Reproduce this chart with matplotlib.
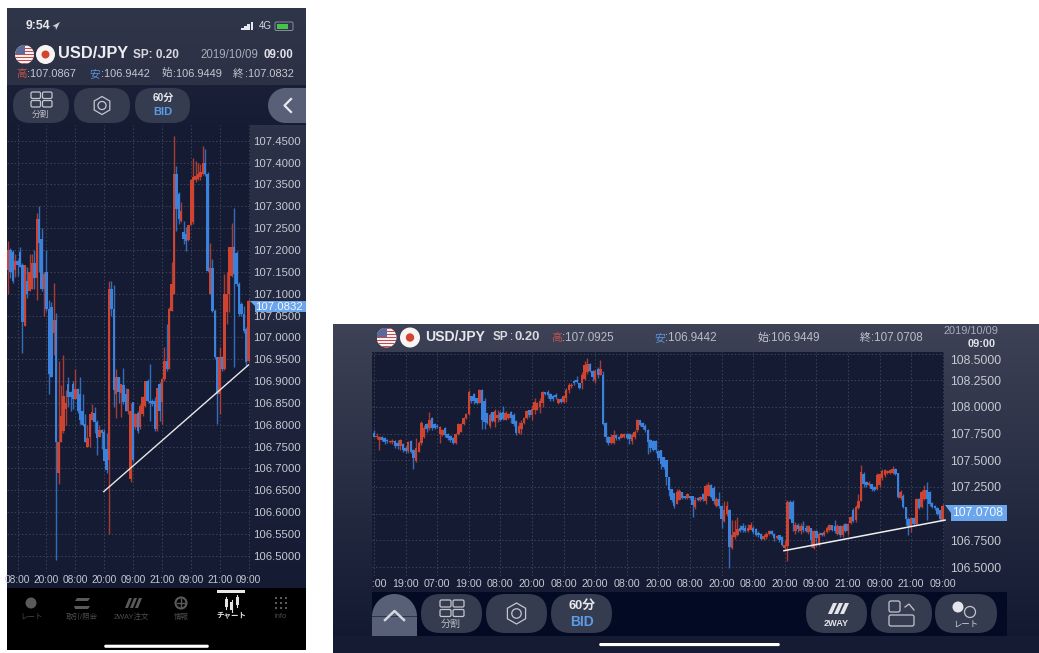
import numpy as np
import matplotlib
matplotlib.use("Agg")
import matplotlib.pyplot as plt
from matplotlib.colors import to_rgb
from matplotlib.patches import Circle, FancyBboxPatch, Polygon, Rectangle, RegularPolygon, Wedge
from matplotlib.transforms import Bbox

W, H = 1039, 653
FONT = ["Liberation Sans", "Noto Sans CJK JP"]
plt.rcParams["font.family"] = FONT

RED = "#cf4431"
BLUE = "#3b82dc"
GRID = "#3d4359"
TICK = "#c6c9d2"
CHART_BG = "#141b33"
BTN = "#363c50"

# portrait chart, 60 min candles
left_open = [
    107.155, 107.20, 107.195, 107.155, 107.175, 107.195, 107.165, 107.025, 107.13, 107.105,
    107.11, 107.17, 107.135, 107.27, 107.225, 107.11, 107.15, 107.065, 107.07, 107.01,
    107.04, 106.69, 106.76, 106.785, 106.835, 106.893, 106.874, 106.893, 106.859, 106.882,
    106.871, 106.832, 106.802, 106.75, 106.771, 106.81, 106.828, 106.806, 106.772, 106.787,
    106.783, 106.745, 106.72, 107.11, 107.065, 106.87, 106.91, 106.873, 106.89, 106.87,
    106.832, 106.676, 106.851, 106.794, 106.828, 106.794, 106.824, 106.844, 106.90, 106.855,
    106.855, 106.855, 106.79, 106.893, 106.851, 106.905, 106.947, 106.927, 107.061, 107.099,
    107.374, 107.328, 107.267, 107.24, 107.236, 107.223, 107.256, 107.263, 107.359, 107.362,
    107.366, 107.374, 107.40, 107.374, 107.099, 107.159, 107.061, 106.954, 106.87, 106.954,
    106.927, 107.057, 107.099, 107.141, 107.206, 107.194, 107.122, 107.076, 107.053, 107.019,
    106.9449,
]
left_high = [
    107.22, 107.205, 107.20, 107.19, 107.18, 107.207, 107.17, 107.165, 107.16, 107.19,
    107.19, 107.20, 107.285, 107.30, 107.25, 107.15, 107.20, 107.085, 107.08, 107.125,
    107.055, 106.945, 106.89, 106.96, 106.88, 106.909, 106.878, 106.901, 106.928, 106.885,
    106.909, 106.87, 106.825, 106.80, 106.825, 106.848, 106.84, 106.81, 106.80, 106.79,
    106.79, 106.78, 107.13, 107.13, 107.12, 106.927, 106.91, 106.893, 106.93, 106.885,
    106.882, 106.85, 106.851, 106.828, 106.832, 106.847, 106.866, 106.90, 106.905, 106.939,
    106.859, 106.863, 106.885, 106.897, 106.908, 106.977, 107.03, 107.069, 107.172, 107.46,
    107.393, 107.332, 107.309, 107.267, 107.252, 107.256, 107.362, 107.41, 107.404, 107.40,
    107.397, 107.439, 107.431, 107.378, 107.217, 107.179, 107.065, 106.956, 106.977, 106.958,
    107.145, 107.149, 107.206, 107.261, 107.296, 107.198, 107.126, 107.08, 107.072, 107.023,
    107.0867,
]
left_low = [
    107.10, 107.135, 107.125, 107.137, 107.14, 107.16, 106.965, 107.025, 107.09, 107.105,
    107.11, 107.11, 107.085, 107.15, 107.105, 107.05, 107.06, 106.87, 106.91, 106.96,
    106.49, 106.665, 106.76, 106.78, 106.80, 106.84, 106.832, 106.836, 106.859, 106.828,
    106.802, 106.798, 106.76, 106.748, 106.748, 106.81, 106.78, 106.73, 106.772, 106.745,
    106.718, 106.69, 106.55, 107.05, 106.84, 106.815, 106.85, 106.817, 106.848, 106.832,
    106.825, 106.67, 106.714, 106.79, 106.782, 106.79, 106.821, 106.84, 106.851, 106.809,
    106.844, 106.786, 106.786, 106.809, 106.802, 106.90, 106.924, 106.927, 107.061, 107.099,
    107.244, 107.259, 107.263, 107.214, 107.198, 107.221, 107.256, 107.259, 107.355, 107.359,
    107.359, 107.372, 107.37, 107.149, 107.099, 107.057, 106.95, 106.802, 106.824, 106.924,
    106.925, 107.03, 107.057, 107.137, 106.933, 107.118, 107.05, 107.05, 107.011, 106.935,
    106.9442,
]
left_close = [
    107.20, 107.15, 107.13, 107.175, 107.165, 107.16, 107.035, 107.165, 107.10, 107.15,
    107.17, 107.135, 107.27, 107.215, 107.11, 107.145, 107.065, 106.915, 106.91, 107.04,
    106.76, 106.76, 106.82, 106.865, 106.85, 106.863, 106.863, 106.859, 106.882, 106.832,
    106.81, 106.80, 106.76, 106.77, 106.825, 106.83, 106.806, 106.77, 106.787, 106.78,
    106.718, 106.696, 107.11, 107.065, 106.88, 106.91, 106.875, 106.893, 106.851, 106.832,
    106.882, 106.832, 106.72, 106.824, 106.786, 106.844, 106.863, 106.90, 106.855, 106.849,
    106.847, 106.79, 106.885, 106.832, 106.905, 106.947, 106.927, 107.065, 107.122, 107.374,
    107.294, 107.271, 107.29, 107.225, 107.221, 107.256, 107.359, 107.366, 107.37, 107.374,
    107.378, 107.399, 107.374, 107.152, 107.159, 107.061, 106.954, 106.87, 106.954, 106.927,
    107.099, 107.099, 107.206, 107.206, 107.145, 107.122, 107.053, 107.053, 107.015, 106.943,
    107.0832,
]
left_yticks = [106.50, 106.55, 106.60, 106.65, 106.70, 106.75, 106.80, 106.85, 106.90, 106.95,
               107.00, 107.05, 107.10, 107.15, 107.20, 107.25, 107.30, 107.35, 107.40, 107.45]
left_xticks = [4, 16, 28, 40, 52, 64, 76, 88, 100]
left_xlabels = ["08:00", "20:00", "08:00", "20:00", "09:00", "21:00", "09:00", "21:00", "09:00"]
left_trend_x = [39.8, 100]
left_trend_y = [106.647, 106.937]

# landscape chart
right_open = [
    107.76, 107.72, 107.69, 107.72, 107.71, 107.69, 107.67, 107.67, 107.68, 107.66,
    107.63, 107.65, 107.62, 107.59, 107.68, 107.60, 107.49, 107.58, 107.66, 107.72,
    107.84, 107.80, 107.90, 107.84, 107.82, 107.75, 107.74, 107.80, 107.75, 107.73,
    107.71, 107.66, 107.75, 107.77, 107.84, 107.90, 107.93, 108.10, 108.12, 108.08,
    108.04, 108.16, 108.06, 107.94, 107.82, 107.95, 107.86, 107.90, 107.94, 107.95,
    107.88, 107.90, 107.95, 107.92, 107.87, 107.76, 107.79, 107.85, 107.90, 107.97,
    107.92, 107.97, 107.97, 108.00, 108.04, 108.14, 108.14, 108.12, 108.10, 108.11,
    108.04, 108.07, 108.05, 108.08, 108.16, 108.20, 108.24, 108.25, 108.22, 108.22,
    108.26, 108.33, 108.40, 108.34, 108.25, 108.36, 108.30, 108.30, 107.85, 107.72,
    107.66, 107.66, 107.74, 107.72, 107.71, 107.72, 107.75, 107.75, 107.68, 107.72,
    107.78, 107.88, 107.85, 107.82, 107.78, 107.69, 107.68, 107.68, 107.59, 107.60,
    107.53, 107.50, 107.34, 107.23, 107.19, 107.09, 107.13, 107.20, 107.17, 107.15,
    107.17, 107.17, 107.06, 107.15, 107.13, 107.18, 107.12, 107.17, 107.27, 107.24,
    107.07, 107.14, 107.07, 106.93, 107.00, 107.03, 106.68, 106.78, 106.80, 106.87,
    106.88, 106.87, 106.84, 106.85, 106.87, 106.86, 106.82, 106.81, 106.76, 106.78,
    106.81, 106.84, 106.81, 106.77, 106.80, 106.78, 106.68, 106.70, 107.11, 107.11,
    106.84, 106.89, 106.84, 106.88, 106.87, 106.83, 106.87, 106.68, 106.84, 106.71,
    106.82, 106.80, 106.83, 106.85, 106.89, 106.88, 106.81, 106.88, 106.80, 106.90,
    106.84, 106.91, 107.03, 106.94, 107.05, 107.12, 107.37, 107.30, 107.27, 107.28,
    107.25, 107.23, 107.27, 107.33, 107.36, 107.38, 107.38, 107.38, 107.42, 107.38,
    107.15, 107.17, 107.06, 106.95, 106.88, 106.96, 106.90, 107.14, 107.06, 107.14,
    107.22, 107.20, 107.10, 107.07, 107.05, 107.03, 106.9449,
]
right_high = [
    107.78, 107.76, 107.73, 107.73, 107.72, 107.70, 107.69, 107.70, 107.69, 107.69,
    107.70, 107.66, 107.63, 107.68, 107.69, 107.61, 107.71, 107.68, 107.87, 107.83,
    107.85, 107.95, 107.91, 107.85, 107.84, 107.82, 107.79, 107.81, 107.76, 107.74,
    107.72, 107.76, 107.85, 107.85, 107.91, 107.94, 108.16, 108.10, 108.13, 108.08,
    108.17, 108.17, 108.08, 107.94, 107.94, 107.95, 107.98, 107.97, 107.96, 108.01,
    107.96, 107.94, 107.96, 107.94, 107.88, 107.86, 107.88, 107.91, 107.97, 107.97,
    108.02, 108.08, 108.05, 108.08, 108.15, 108.14, 108.16, 108.13, 108.11, 108.13,
    108.08, 108.08, 108.11, 108.18, 108.22, 108.22, 108.25, 108.29, 108.22, 108.33,
    108.43, 108.46, 108.41, 108.35, 108.36, 108.37, 108.44, 108.34, 107.86, 107.73,
    107.75, 107.78, 107.75, 107.73, 107.76, 107.76, 107.76, 107.76, 107.76, 107.78,
    107.89, 107.88, 107.86, 107.84, 107.79, 107.70, 107.69, 107.69, 107.60, 107.60,
    107.53, 107.50, 107.34, 107.23, 107.19, 107.23, 107.23, 107.20, 107.17, 107.19,
    107.17, 107.17, 107.16, 107.16, 107.17, 107.19, 107.28, 107.30, 107.28, 107.26,
    107.16, 107.20, 107.08, 107.12, 107.12, 107.04, 106.94, 106.94, 106.97, 106.89,
    106.91, 106.89, 106.90, 106.92, 106.88, 106.87, 106.84, 106.82, 106.81, 106.83,
    106.85, 106.85, 106.82, 106.80, 106.80, 106.79, 106.75, 107.13, 107.13, 107.13,
    106.92, 106.91, 106.91, 106.93, 106.89, 106.89, 106.87, 106.85, 106.85, 106.83,
    106.82, 106.85, 106.88, 106.90, 106.89, 106.94, 106.90, 106.89, 106.90, 106.91,
    106.91, 106.98, 107.05, 107.08, 107.18, 107.46, 107.39, 107.31, 107.31, 107.28,
    107.26, 107.38, 107.38, 107.42, 107.42, 107.41, 107.42, 107.45, 107.43, 107.38,
    107.22, 107.18, 107.06, 106.97, 106.97, 106.97, 107.15, 107.15, 107.22, 107.27,
    107.30, 107.21, 107.11, 107.08, 107.06, 107.03, 107.0925,
]
right_low = [
    107.72, 107.70, 107.60, 107.68, 107.65, 107.66, 107.66, 107.65, 107.62, 107.61,
    107.60, 107.58, 107.57, 107.57, 107.57, 107.42, 107.48, 107.58, 107.64, 107.71,
    107.77, 107.78, 107.78, 107.79, 107.80, 107.66, 107.73, 107.72, 107.69, 107.67,
    107.65, 107.65, 107.74, 107.77, 107.83, 107.89, 107.92, 108.04, 108.03, 108.03,
    108.04, 107.79, 107.79, 107.84, 107.80, 107.86, 107.81, 107.86, 107.87, 107.88,
    107.88, 107.89, 107.85, 107.82, 107.74, 107.75, 107.75, 107.84, 107.89, 107.91,
    107.88, 107.93, 107.97, 107.94, 108.00, 108.11, 108.08, 108.06, 108.06, 108.07,
    108.03, 108.04, 108.04, 108.05, 108.13, 108.18, 108.21, 108.22, 108.17, 108.17,
    108.25, 108.31, 108.33, 108.24, 108.22, 108.27, 108.30, 107.83, 107.67, 107.64,
    107.65, 107.65, 107.69, 107.69, 107.71, 107.71, 107.70, 107.65, 107.65, 107.70,
    107.77, 107.82, 107.79, 107.77, 107.56, 107.58, 107.59, 107.57, 107.50, 107.42,
    107.42, 107.27, 107.17, 107.11, 107.05, 107.09, 107.13, 107.14, 107.14, 107.14,
    107.14, 106.97, 107.04, 107.12, 107.12, 107.12, 107.09, 107.17, 107.15, 107.09,
    107.06, 107.05, 106.87, 106.92, 106.98, 106.49, 106.67, 106.76, 106.79, 106.83,
    106.83, 106.83, 106.83, 106.85, 106.81, 106.79, 106.78, 106.75, 106.75, 106.76,
    106.80, 106.80, 106.74, 106.76, 106.73, 106.70, 106.66, 106.56, 106.95, 106.84,
    106.81, 106.83, 106.81, 106.83, 106.83, 106.81, 106.69, 106.67, 106.70, 106.70,
    106.79, 106.79, 106.82, 106.84, 106.84, 106.82, 106.80, 106.78, 106.78, 106.83,
    106.80, 106.90, 106.92, 106.92, 107.04, 107.12, 107.25, 107.25, 107.26, 107.21,
    107.21, 107.22, 107.25, 107.32, 107.34, 107.37, 107.37, 107.37, 107.36, 107.15,
    107.13, 107.05, 106.89, 106.80, 106.83, 106.88, 106.89, 107.04, 107.05, 107.13,
    106.94, 107.07, 107.05, 107.03, 106.99, 106.94, 106.9442,
]
right_close = [
    107.72, 107.73, 107.72, 107.69, 107.67, 107.68, 107.68, 107.68, 107.63, 107.63,
    107.69, 107.60, 107.59, 107.67, 107.58, 107.52, 107.62, 107.66, 107.85, 107.80,
    107.79, 107.88, 107.80, 107.80, 107.81, 107.81, 107.78, 107.74, 107.71, 107.69,
    107.66, 107.75, 107.84, 107.84, 107.90, 107.93, 108.14, 108.06, 108.06, 108.04,
    108.16, 107.88, 107.86, 107.85, 107.92, 107.87, 107.96, 107.92, 107.88, 107.89,
    107.94, 107.93, 107.90, 107.84, 107.76, 107.82, 107.85, 107.90, 107.96, 107.92,
    107.98, 108.05, 108.04, 108.06, 108.14, 108.12, 108.11, 108.07, 108.07, 108.09,
    108.07, 108.05, 108.10, 108.16, 108.21, 108.21, 108.22, 108.23, 108.18, 108.30,
    108.39, 108.40, 108.34, 108.28, 108.34, 108.30, 108.36, 107.84, 107.72, 107.66,
    107.72, 107.74, 107.71, 107.70, 107.75, 107.75, 107.71, 107.70, 107.74, 107.77,
    107.88, 107.83, 107.81, 107.78, 107.67, 107.62, 107.60, 107.60, 107.52, 107.47,
    107.44, 107.34, 107.22, 107.13, 107.07, 107.20, 107.21, 107.15, 107.15, 107.18,
    107.15, 107.08, 107.13, 107.13, 107.16, 107.14, 107.26, 107.27, 107.16, 107.12,
    107.14, 107.07, 106.95, 107.03, 107.07, 106.69, 106.80, 106.83, 106.86, 106.84,
    106.85, 106.84, 106.87, 106.89, 106.83, 106.80, 106.80, 106.76, 106.79, 106.81,
    106.84, 106.81, 106.77, 106.79, 106.75, 106.71, 106.71, 107.11, 106.95, 106.91,
    106.89, 106.86, 106.88, 106.85, 106.84, 106.88, 106.75, 106.84, 106.77, 106.81,
    106.80, 106.83, 106.87, 106.89, 106.85, 106.84, 106.88, 106.80, 106.88, 106.84,
    106.90, 106.97, 106.93, 107.06, 107.12, 107.39, 107.28, 107.27, 107.29, 107.23,
    107.22, 107.36, 107.37, 107.40, 107.41, 107.40, 107.41, 107.42, 107.37, 107.16,
    107.20, 107.06, 106.95, 106.88, 106.96, 106.90, 107.14, 107.05, 107.20, 107.22,
    107.14, 107.09, 107.06, 107.05, 107.00, 106.95, 107.0708,
]
right_yticks = [106.50, 106.75, 107.00, 107.25, 107.50, 107.75, 108.00, 108.25, 108.50]
right_xticks = [0, 12, 24, 36, 48, 60, 72, 84, 96, 108, 120, 132, 144, 156, 168, 180, 192, 204, 216]
right_xlabels = ["07:00", "19:00", "07:00", "19:00", "08:00", "20:00", "08:00", "20:00", "08:00", "20:00",
                 "08:00", "20:00", "08:00", "20:00", "09:00", "21:00", "09:00", "21:00", "09:00"]
right_trend_x = [155.7, 216.9]
right_trend_y = [106.653, 106.94]


def px_axes(fig, x0, y0, x1, y1, zorder):
    return fig.add_axes([x0 / W, 1 - y1 / H, (x1 - x0) / W, (y1 - y0) / H], zorder=zorder)


def vgrad(ax, x0, y0, x1, y1, top, bottom):
    c0, c1 = np.array(to_rgb(top)), np.array(to_rgb(bottom))
    t = np.linspace(0, 1, 64)[:, None, None]
    img = c0[None, None, :] * (1 - t) + c1[None, None, :] * t
    ax.imshow(img, extent=(x0, x1, y1, y0), aspect="auto", interpolation="bilinear", zorder=0)


def candles(ax, o, h, l, c, width, lw):
    o, h, l, c = map(np.array, (o, h, l, c))
    x = np.arange(len(o))
    colors = [RED if b >= a else BLUE for a, b in zip(o, c)]
    ax.vlines(x, l, h, colors=colors, linewidth=lw, alpha=0.8, zorder=3)
    ax.bar(x, np.abs(c - o), bottom=np.minimum(o, c), width=width, color=colors, linewidth=0, zorder=4)


def style_chart(ax, yticks, xticks, xlabels, ysize, xsize, ypad):
    ax.set_facecolor(CHART_BG)
    for s in ax.spines.values():
        s.set_visible(False)
    ax.set_yticks(yticks)
    ax.set_yticklabels(["%.4f" % v for v in yticks])
    ax.set_xticks(xticks)
    ax.set_xticklabels(xlabels)
    ax.yaxis.tick_right()
    ax.tick_params(axis="y", length=0, pad=ypad, labelsize=ysize, labelcolor=TICK)
    ax.tick_params(axis="x", length=0, pad=2.5, labelsize=xsize, labelcolor=TICK)
    ax.grid(True, color=GRID, linewidth=0.7, linestyle=(0, (1.5, 2.2)), zorder=1)
    ax.set_axisbelow(True)


def txt(ax, x, y, s, size, color="#d5d7de", weight="normal", ha="left", zorder=4):
    ax.text(x, y, s, fontsize=size, color=color, fontweight=weight, ha=ha, va="center", family=FONT, zorder=zorder)


def button(ax, x0, y0, x1, y1, color=BTN):
    r = (y1 - y0) / 2
    ax.add_patch(FancyBboxPatch((x0 + r, y0 + r), x1 - x0 - 2 * r, 0.01,
                                boxstyle="round,pad=%f,rounding_size=%f" % (r, r),
                                fc=color, ec="none", zorder=2))


def rrect(ax, x, y, w, h, color="#c4c6ce", r=1.5, lw=0.9):
    ax.add_patch(FancyBboxPatch((x + r, y + r), w - 2 * r, h - 2 * r,
                                boxstyle="round,pad=%f,rounding_size=%f" % (r, r),
                                fc="none", ec=color, lw=lw, zorder=3))


def us_flag(ax, cx, cy, r):
    clip = Circle((cx, cy), r, transform=ax.transData)
    ax.add_patch(Rectangle((cx - r, cy - r), 2 * r, 2 * r, fc="#f4f1f1", ec="none", zorder=3, clip_path=clip))
    for k in range(0, 7):
        ax.add_patch(Rectangle((cx - r, cy - r + k * 2 * r / 6.5), 2 * r, r / 6.5, fc="#c9484c", ec="none",
                               zorder=3, clip_path=clip))
    ax.add_patch(Rectangle((cx - r, cy - r), r * 1.05, r * 0.95, fc="#5b6a99", ec="none", zorder=4, clip_path=clip))


def jp_flag(ax, cx, cy, r):
    ax.add_patch(Circle((cx, cy), r, fc="#f7f5f4", ec="none", zorder=3))
    ax.add_patch(Circle((cx, cy), r * 0.42, fc="#d4452f", ec="none", zorder=4))


def gear(ax, cx, cy, r):
    ax.add_patch(RegularPolygon((cx, cy), 6, radius=r, fc="none", ec="#c4c6ce", lw=0.9, zorder=3))
    ax.add_patch(Circle((cx, cy), r * 0.45, fc="none", ec="#c4c6ce", lw=0.9, zorder=3))


fig = plt.figure(figsize=(W / 100, H / 100), dpi=100, facecolor="white")

# chrome under the charts
bg = px_axes(fig, 0, 0, W, H, 0)
vgrad(bg, 7, 8, 306, 85, "#30364a", "#2c3145")
vgrad(bg, 7, 85, 306, 125, "#1a2038", "#161c34")
vgrad(bg, 7, 125, 249, 588, CHART_BG, CHART_BG)
vgrad(bg, 249, 125, 306, 588, "#2c3248", "#141b33")
vgrad(bg, 333, 324, 1039, 653, "#3d4256", "#10172f")
bg.add_patch(Rectangle((7, 588), 299, 62, fc="black", ec="none", zorder=1))
bg.add_patch(Rectangle((372, 352), 571, 240, fc=CHART_BG, ec="none", zorder=1))
bg.add_patch(Rectangle((372, 592), 635, 44, fc="#020a24", ec="none", zorder=1))
bg.add_patch(Rectangle((333, 636), 706, 17, fc="#141b33", ec="none", zorder=1))
bg.set_xlim(0, W)
bg.set_ylim(H, 0)
bg.axis("off")

# portrait chart: 8 + 2.405 px per candle, 436.9 px per yen
ax_l = px_axes(fig, 7, 125, 249.5, 572, 1)
style_chart(ax_l, left_yticks, left_xticks, left_xlabels, 8.2, 7.3, 2.4)
candles(ax_l, left_open, left_high, left_low, left_close, 1.0, 1.0)
ax_l.plot(left_trend_x, left_trend_y, color="#e8e8e8", lw=1.0, zorder=5)
ax_l.set_xlim(-0.416, 100.4)
ax_l.set_ylim(106.463, 107.486)

# landscape chart: 374 + 2.633 px per candle, 106.7 px per yen
ax_r = px_axes(fig, 372, 352, 943.5, 576, 1)
style_chart(ax_r, right_yticks[:-1], right_xticks, right_xlabels, 8.7, 7.7, 4.5)
# 107.0000 sits behind the price badge in the app
ax_r.set_yticklabels(["" if v == 107.0 else "%.4f" % v for v in right_yticks[:-1]])
ax_r.hlines(right_yticks[-1], -1, 217, color=GRID, linewidth=0.7, linestyle=(0, (1.5, 2.2)), zorder=1)
candles(ax_r, right_open, right_high, right_low, right_close, 0.95, 1.0)
ax_r.plot(right_trend_x, right_trend_y, color="#f0f0f0", lw=1.1, zorder=5, clip_on=False)
ax_r.set_xlim(-0.76, 216.3)
ax_r.set_ylim(106.416, 108.515)
ax_r.annotate("%.4f" % right_yticks[-1], xy=(1, right_yticks[-1]), xycoords=ax_r.get_yaxis_transform(),
              xytext=(4.5, -5.2), textcoords="offset points", va="center", fontsize=8.7, color=TICK)
first = ax_r.get_xticklabels()[0]
first.set_clip_box(Bbox([[372, 0], [420, H]]))
first.set_clip_on(True)

# everything above the charts, in pixels
fg = px_axes(fig, 0, 0, W, H, 2)
fg.set_xlim(0, W)
fg.set_ylim(H, 0)
fg.axis("off")
fg.patch.set_alpha(0)

# portrait header
txt(fg, 26, 26, "9:54", 8.8, "#e8e9ee", "bold")
fg.add_patch(Polygon([[60, 22], [52.5, 26], [55.5, 26.8], [56, 30]], fc="#d0d2d8", ec="none"))
for k, hgt in enumerate([2.5, 4, 6, 8]):
    fg.add_patch(Rectangle((241 + k * 3.2, 30 - hgt), 2.6, hgt, fc="#e8e9ee", ec="none"))
txt(fg, 258.5, 26, "4G", 7, "#d5d7de")
rrect(fg, 275, 22, 18, 8.5, "#8a8f9c", r=1.5, lw=0.7)
fg.add_patch(Rectangle((276.5, 23.5), 11, 5.5, fc="#48c24a", ec="none", zorder=3))
us_flag(fg, 24.5, 54.5, 9.5)
jp_flag(fg, 45.5, 54.5, 9.5)
txt(fg, 58, 54, "USD/JPY", 11.8, "#eceef2", "bold")
txt(fg, 133, 54.5, "SP: 0.20", 8.5, "#d8dae0", "bold")
txt(fg, 200, 54.5, "2019/10/09", 8.3, "#a9adb8")
txt(fg, 263, 54.5, "09:00", 8.3, "#e0e2e8", "bold")
for x, label, col, val in [(16, "高", "#c4534b", ":107.0867"), (89, "安", "#5c94dc", ":106.9442"),
                           (161, "始", "#c6c9d2", ":106.9449"), (233, "終", "#c6c9d2", ":107.0832")]:
    txt(fg, x, 74, label, 7.6, col)
    txt(fg, x + 11.5, 74, val, 7.9, "#c6c9d2")

# portrait buttons
button(fg, 13, 88, 69, 123)
button(fg, 74, 88, 130, 123)
button(fg, 135, 88, 190, 123)
fg.add_patch(Rectangle((285, 88), 21, 35, fc="#586078", ec="none", zorder=2))
fg.add_patch(Circle((285.5, 105.5), 17.5, fc="#586078", ec="none", zorder=2))
fg.plot([291, 284.5, 291], [99, 105.5, 112], color="#e8e9ee", lw=1.6, zorder=3)
for gx, gy in [(31, 92), (42.5, 92), (31, 100.5), (42.5, 100.5)]:
    rrect(fg, gx, gy, 9.5, 6.5)
txt(fg, 41, 114.5, "分割", 6.3, "#b9bcc5", ha="center")
gear(fg, 102, 105.5, 9)
txt(fg, 163, 98, "60分", 7.2, "#e8e9ee", "bold", ha="center")
txt(fg, 163, 112, "BID", 8, "#5b9be8", "bold", ha="center")

# price badges
fg.add_patch(Polygon([[249.5, 301], [306, 301], [306, 312], [254.5, 312], [254.5, 306]], fc="#6aa5ee", ec="none", zorder=3))
txt(fg, 255, 307, "107.0832", 8.2, "#f2f6fc", zorder=5)
fg.add_patch(Polygon([[944.5, 505], [1007, 505], [1007, 521], [951, 521], [951, 513]], fc="#6aa5ee", ec="none", zorder=3))
txt(fg, 952.5, 513, "107.0708", 8.7, "#f4f8fd", zorder=5)

# portrait bottom bar
fg.add_patch(Rectangle((217, 590), 28, 2.6, fc="#e8e8e8", ec="none", zorder=3))
for x, s, col, w in [(32, "レート", "#4c4c4c", "normal"), (82, "取引/照会", "#4c4c4c", "normal"),
                     (131, "2WAY注文", "#4c4c4c", "normal"), (181, "情報", "#4c4c4c", "normal"),
                     (231, "チャート", "#e4e4e4", "bold"), (281, "info", "#4c4c4c", "normal")]:
    txt(fg, x, 617, s, 5.4, col, w, ha="center")
fg.add_patch(Circle((31, 603), 5.5, fc="#5a5a5a", ec="none", zorder=3))
fg.add_patch(Polygon([[74, 606], [90, 606], [88, 609], [75, 609]], fc="#5a5a5a", ec="none", zorder=3))
fg.add_patch(Polygon([[77, 598], [90, 598], [88, 601], [75, 601]], fc="#5a5a5a", ec="none", zorder=3))
for k in range(3):
    fg.add_patch(Polygon([[125 + k * 5, 608], [129 + k * 5, 598], [132 + k * 5, 598], [128 + k * 5, 608]],
                         fc="#5a5a5a", ec="none", zorder=3))
fg.add_patch(Circle((181, 603), 5.5, fc="none", ec="#5a5a5a", lw=1.5, zorder=3))
fg.plot([177, 185], [603, 603], color="#5a5a5a", lw=1, zorder=3)
fg.plot([181, 181], [599, 607], color="#5a5a5a", lw=1, zorder=3)
for bx, by0, by1 in [(226, 599, 607), (231.5, 602, 610), (237, 597, 605)]:
    fg.add_patch(Rectangle((bx - 1.5, by0), 3, by1 - by0, fc="#e4e4e4", ec="none", zorder=3))
    fg.plot([bx, bx], [by0 - 2, by1 + 2], color="#e4e4e4", lw=0.8, zorder=3)
for gx in (276, 281, 286):
    for gy in (598, 603, 608):
        fg.add_patch(Rectangle((gx - 1.3, gy - 1.3), 2.6, 2.6, fc="#5a5a5a", ec="none", zorder=3))
fg.add_patch(FancyBboxPatch((105, 645.5), 103, 1.5, boxstyle="round,pad=0.8,rounding_size=1.5", fc="white", ec="none", zorder=3))

# landscape header
us_flag(fg, 386.5, 337.5, 10)
jp_flag(fg, 410, 337.5, 10)
txt(fg, 425, 337, "USD/JPY", 10.1, "#e6e7ec", "bold")
txt(fg, 493, 337.5, "SP", 8.4, "#d8dae0", "bold")
txt(fg, 510, 337.5, ":", 8.4, "#d8dae0")
txt(fg, 514.5, 337.5, "0.20", 9.4, "#d8dae0", "bold")
for x, label, col, val in [(551, "高", "#c4534b", ":107.0925"), (654, "安", "#5c94dc", ":106.9442"),
                           (757, "始", "#c6c9d2", ":106.9449"), (860, "終", "#c6c9d2", ":107.0708")]:
    txt(fg, x, 338, label, 7.8, col)
    txt(fg, x + 11, 338, val, 8.4, "#b9bcc5")
txt(fg, 944, 331, "2019/10/09", 7.9, "#a9adb8")
txt(fg, 968, 344, "09:00", 7.9, "#e0e2e8", "bold")

# landscape buttons
fg.add_patch(Rectangle((372, 616.5), 45, 19.5, fc="#586078", ec="none", zorder=2))
fg.add_patch(Wedge((394.5, 616.5), 22.5, 180, 360, fc="#586078", ec="none", zorder=2))
fg.plot([385, 394.5, 404], [620, 611, 620], color="#d5d7de", lw=1.8, zorder=3)
for x0, x1 in [(421, 482), (486, 547), (551, 612), (806, 867), (871, 932), (935, 997)]:
    button(fg, x0, 594, x1, 633)
for gx, gy in [(440, 600), (453, 600), (440, 609.5), (453, 609.5)]:
    rrect(fg, gx, gy, 11, 7)
txt(fg, 451, 623.5, "分割", 7.2, "#b9bcc5", ha="center")
gear(fg, 516.5, 613.5, 10.5)
txt(fg, 582, 606, "60分", 9.2, "#e8e9ee", "bold", ha="center")
txt(fg, 582, 622, "BID", 10, "#5b9be8", "bold", ha="center")
for k in range(3):
    fg.add_patch(Polygon([[828 + k * 6, 614], [833 + k * 6, 603], [837 + k * 6, 603], [832 + k * 6, 614]],
                         fc="#e4e5ea", ec="none", zorder=3))
txt(fg, 836.5, 623.5, "2WAY", 6.6, "#e4e5ea", "bold", ha="center")
rrect(fg, 889, 601, 11, 11, r=2)
rrect(fg, 889, 615, 25, 11, r=2)
fg.plot([905, 909, 914], [607, 604, 610], color="#c4c6ce", lw=0.9, zorder=3)
fg.add_patch(Circle((958, 607), 5.5, fc="#e4e5ea", ec="none", zorder=3))
fg.add_patch(Circle((970, 612), 5.5, fc="none", ec="#c4c6ce", lw=0.9, zorder=3))
txt(fg, 966, 625, "レート", 6, "#d5d7de", ha="center")
fg.add_patch(FancyBboxPatch((600, 643.8), 179, 1.5, boxstyle="round,pad=0.8,rounding_size=1.5", fc="white", ec="none", zorder=3))

fig.savefig("out.png", dpi=100)
